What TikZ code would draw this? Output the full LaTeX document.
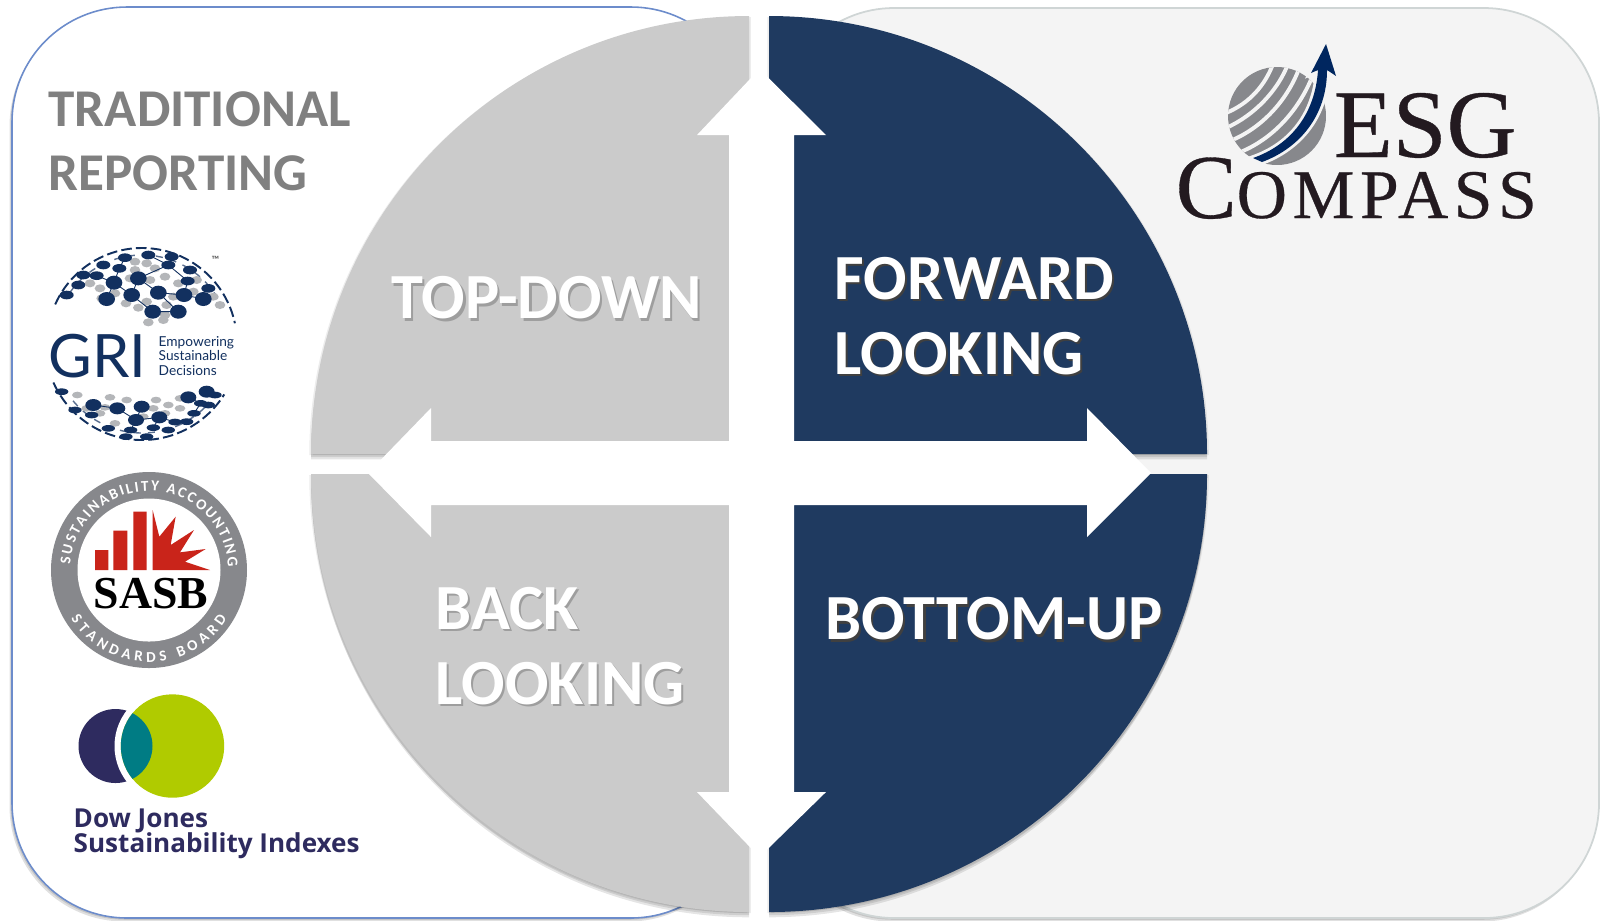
\documentclass[tikz,border=0pt]{standalone}
\usepackage{fontspec}
\usetikzlibrary{decorations.text}
\setmainfont{Carlito}
\newfontfamily\esgfont{Liberation Serif}
\newfontfamily\grifont{Lato}
\newfontfamily\djfont{Open Sans}

\definecolor{quadgray}{HTML}{CBCBCB}
\definecolor{quadnavy}{HTML}{1F3A60}
\definecolor{griblue}{HTML}{12305F}
\definecolor{grigray}{HTML}{B4B6B9}
\definecolor{sasbgray}{HTML}{87888C}
\definecolor{sasbred}{HTML}{C9241A}
\definecolor{djdark}{HTML}{2E2B5F}
\definecolor{djgreen}{HTML}{B0CB00}
\definecolor{djteal}{HTML}{007C84}
\definecolor{esgink}{HTML}{231A20}
\definecolor{esgblue}{HTML}{00265F}
\definecolor{panelbg}{HTML}{F4F4F4}
\definecolor{panelblue}{HTML}{6C8CCB}
\definecolor{panelline}{HTML}{CFD5D5}

\tikzset{
  quadshadow/.style={
    preaction={fill=black,opacity=.1,transform canvas={shift={(0pt,-1.5pt)}}},
    preaction={fill=black,opacity=.1,transform canvas={shift={(0pt,-.9pt)}}},
    preaction={fill=black,opacity=.07,transform canvas={shift={(.5pt,-.3pt)}}},
    preaction={fill=black,opacity=.07,transform canvas={shift={(-.5pt,-.3pt)}}}},
  panelshadow/.style={
    preaction={fill=black,opacity=.12,transform canvas={shift={(-.7pt,-1pt)}}},
    preaction={fill=black,opacity=.12,transform canvas={shift={(-.4pt,-.5pt)}}}},
  bigtext/.style={font=\bfseries\fontsize{18.3}{21.3}\selectfont,inner sep=0,align=left,anchor=west},
  graytext/.style={font=\bfseries\fontsize{15.1}{18.2}\selectfont,text=black!50,inner sep=0,align=left,anchor=west},
  plain/.style={inner sep=0,anchor=base west},
}

% white line with an offset copy behind it
\newcommand{\shadowline}[2]{\rlap{\raisebox{-.7pt}{\kern.6pt\textcolor{#1}{#2}}}\textcolor{white}{#2}}

\begin{document}
\begin{tikzpicture}[x=0.01cm,y=-0.01cm]
\useasboundingbox (0,0) rectangle (1601,920);

% Draw the two panels
\draw[panelshadow,fill=white,draw=panelblue,line width=.45pt,rounded corners=32.7pt] (12,7) rectangle (746,918);
\draw[panelshadow,fill=panelbg,draw=panelline,line width=.5pt,rounded corners=32.7pt] (779,8) rectangle (1599,918);

% Draw the four quadrants
\fill[quadgray,quadshadow] (749,454) -- (311,454) arc[start angle=180,end angle=270,radius=438] -- cycle;
\fill[quadnavy,quadshadow] (769,454) -- (769,16) arc[start angle=270,end angle=360,radius=438] -- cycle;
\fill[quadnavy,quadshadow] (769,474) -- (1207,474) arc[start angle=0,end angle=90,radius=438] -- cycle;
\fill[quadgray,quadshadow] (749,474) -- (749,912) arc[start angle=90,end angle=180,radius=438] -- cycle;

% Draw the white cross with its four heads
\fill[white] (759.5,69) -- (826,135) -- (794,135) -- (794,441) -- (1087,441) -- (1087,408) -- (1151,473)
  -- (1087,537) -- (1087,505) -- (794,505) -- (794,792) -- (826,792) -- (759.5,857) -- (697,792) -- (729,792)
  -- (729,505) -- (431,505) -- (431,537) -- (368,473) -- (431,408) -- (431,441) -- (729,441) -- (729,135)
  -- (697,135) -- cycle;

% Draw the labels
\node[bigtext] (topdown) at (391,299) {\shadowline{black!38}{TOP-DOWN}};
\node[bigtext] (forward) at (834,317) {\shadowline{black!75}{FORWARD}\\\shadowline{black!75}{LOOKING}};
\node[bigtext] (back) at (435,647) {\shadowline{black!38}{BACK}\\\shadowline{black!38}{LOOKING}};
\node[bigtext] (bottomup) at (825,620) {\shadowline{black!75}{BOTTOM-UP}};
\node[graytext] (traditional) at (48,141) {TRADITIONAL\\REPORTING};

% GRI globe, top cap
\draw[griblue,line width=.55pt,dash pattern=on 3pt off 1.2pt] (142,343) ++(204:95) arc[start angle=204,end angle=348,radius=95];
\draw[griblue!70,line width=.4pt,dash pattern=on 2pt off 2pt] (142,343) ++(215:88) arc[start angle=215,end angle=335,radius=88];
\begin{scope}[shift={(40,235)},scale=1/3]
\foreach \a/\b in {185/190,225/175,258/205,320/200,295/218,380/210,400/185,375/240,325/262,370/255,460/170,415/145,375/125,330/135,345/100,285/105,320/85,270/130,180/160,150/145,540/210,520/185,285/80,470/135}
  \fill[grigray] (\a,\b) ellipse (16 and 12);
\draw[griblue,line width=.25pt] (338,230) -- (275,180) -- (222,143) -- (238,100) -- (255,68) (275,180) -- (295,130) -- (385,90) -- (325,60) (338,230) -- (415,230) -- (355,173) -- (295,130) (355,173) -- (432,180) -- (443,138) -- (385,90) (200,192) -- (222,143) -- (170,122) (432,180) -- (490,192);
\foreach \a/\b in {338/230,415/230,275/180,355/173,432/180,200/192,490/192,222/143,295/130}
  \fill[griblue] (\a,\b) ellipse (25 and 21);
\foreach \a/\b in {443/138,385/90,238/100,170/122,325/60,255/68,115/150,80/180,505/160,450/105,395/65,190/90,130/120}
  \fill[griblue] (\a,\b) ellipse (21 and 13);
\end{scope}
% GRI globe, bottom cap
\draw[griblue,line width=.55pt,dash pattern=on 3pt off 1.2pt] (142,343) ++(156:97) arc[start angle=156,end angle=32,radius=97];
\draw[griblue!70,line width=.4pt,dash pattern=on 2pt off 2pt] (142,343) ++(140:90) arc[start angle=140,end angle=45,radius=90];
\begin{scope}[shift={(40,380)},scale=1/3]
\foreach \a/\b in {112/45,210/52,260/60,348/60,385/75,420/85,340/85,375/100,225/130,310/110,180/100,140/85,195/82,420/55}
  \fill[grigray] (\a,\b) ellipse (16 and 10);
\draw[griblue,line width=.25pt] (160,75) -- (232,85) -- (288,120) -- (272,150) (305,80) -- (288,120) -- (358,112) -- (340,143) (358,112) -- (405,126) (445,52) -- (482,70) -- (462,100);
\foreach \a/\b in {160/75,232/85,305/80,288/120,358/112,445/52,500/35}
  \fill[griblue] (\a,\b) ellipse (24 and 18);
\foreach \a/\b in {272/150,340/143,405/126,482/70,462/100,155/105,205/145,65/35,105/90,258/170,320/170,385/150,440/125,525/45,505/75}
  \fill[griblue] (\a,\b) ellipse (20 and 10);
\end{scope}
\node[plain,text=griblue,font=\grifont\fontsize{17}{17}\selectfont] (gri) at (48,377) {GRI};
\node[plain,text=griblue,font=\grifont\fontsize{3.9}{4.2}\selectfont,align=left,anchor=west] (griclaim) at (158,356) {Empowering\\Sustainable\\Decisions};
\node[plain,text=black!60,font=\bfseries\fontsize{3}{3}\selectfont] (gritm) at (211,263) {™};

% SASB seal
\fill[sasbgray] (149,570) circle (98);
\fill[white] (149,570) circle (71.5);
\path[decorate,decoration={text along path,text align={fit to path},text color=white,
  text={|\bfseries\fontsize{4.3}{5}\selectfont|SUSTAINABILITY  ACCOUNTING}}] (149,570) ++(184:79) arc[start angle=184,end angle=358,radius=79];
\path[decorate,decoration={text along path,text align={fit to path},text color=white,
  text={|\bfseries\fontsize{4.3}{5}\selectfont|STANDARDS  BOARD}}] (149,570) ++(148:92) arc[start angle=148,end angle=32,radius=92];
\begin{scope}[shift={(0,220)},scale=1/3]
\fill[sasbred] (285,990) rectangle (325,1050) (340,932) rectangle (382,1050) (400,875) rectangle (440,1050);
\fill[sasbred] (458,1050) -- (458,870) -- (478,950) -- (527,890) -- (512,975) -- (582,930) -- (540,997) -- (617,987) -- (555,1025) -- (630,1050) -- cycle;
\end{scope}
\node[plain,font=\esgfont\bfseries\fontsize{13}{13}\selectfont] (sasb) at (93,608) {SASB};

% Dow Jones circles
\fill[djdark] (115.5,746) circle (37);
\fill[white] (172.5,746) circle (58);
\fill[djgreen] (172.5,746) circle (51.7);
\begin{scope}
\clip (172.5,746) circle (51.7);
\fill[djteal] (115.5,746) circle (37);
\end{scope}
\node[plain,text=djdark,font=\djfont\bfseries\fontsize{7.42}{7.42}\selectfont] (dowjones) at (73,827) {Dow Jones};
\node[plain,text=djdark,font=\djfont\bfseries\fontsize{7.42}{7.42}\selectfont] (indexes) at (73,852) {Sustainability Indexes};

% ESG Compass globe and arrow
\begin{scope}
\clip (1277,116) circle (49);
\fill[sasbgray] (1228,67) rectangle (1326,165);
\foreach \sx/\sy/\ax/\ay/\bx/\by/\ex/\ey in {1226/113/1250/103/1265/85/1273/64,1226/128/1255/115/1278/90/1288/64,1230/141/1262/128/1288/100/1300/66,1238/153/1272/140/1300/110/1314/72}
  \draw[panelbg,line width=1.1pt] (\sx,\sy) .. controls (\ax,\ay) and (\bx,\by) .. (\ex,\ey);
\end{scope}
\fill[esgblue,preaction={draw=panelbg,line width=1.6pt}] (1253,158) .. controls (1290,145) and (1315,115) .. (1318,70) -- (1311,73) -- (1326,44) -- (1336,76) -- (1327,70) .. controls (1327,115) and (1300,148) .. (1262,162) -- cycle;
\node[plain,text=esgink,font=\esgfont\fontsize{27.5}{27.5}\selectfont\addfontfeature{FakeBold=.4}] (esg) at (1333,157) {ESG};
\node[plain,text=esgink,font=\esgfont\addfontfeature{FakeBold=.4}] (compass) at (1175,218) {\fontsize{26}{26}\selectfont C{\addfontfeature{LetterSpace=8}\fontsize{19.8}{20}\selectfont OMPASS}};
\end{tikzpicture}
\end{document}
